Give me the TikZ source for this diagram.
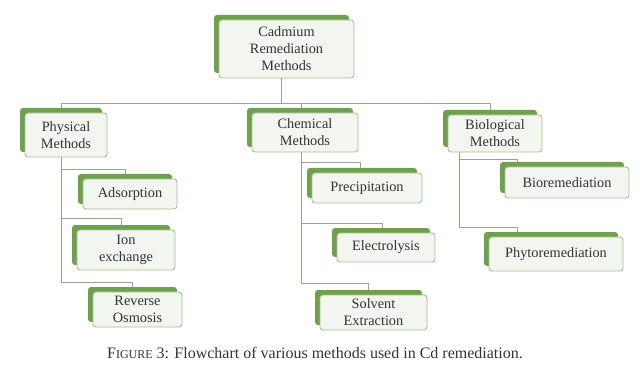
\documentclass[tikz,border=0pt]{standalone}
\usepackage{fontspec}
\setmainfont{Liberation Serif}
\usetikzlibrary{shadows,backgrounds}
\definecolor{gback}{HTML}{6FA04D}
\definecolor{gfront}{HTML}{F3F5F0}
\definecolor{gborder}{HTML}{A6C08E}
\definecolor{gline}{HTML}{9AA58A}
\definecolor{txt}{HTML}{333333}
\begin{document}
\begin{tikzpicture}[x=1pt,y=-1pt,
  box/.style={draw=gborder, fill=gfront, line width=0.9pt, rounded corners=3pt,
    align=center, inner sep=0pt, text=txt,
    font=\fontsize{14.3}{17}\selectfont,
    general shadow={fill=gback, shadow xshift=-5pt, shadow yshift=5pt}},
  conn/.style={draw=gline, line width=0.8pt}]
\useasboundingbox (0,0) rectangle (640,385);

% nodes
\node[box, minimum width=135pt, minimum height=58pt] (top) at (286.5,49) {Cadmium\\Remediation\\Methods};
\node[box, minimum width=82pt, minimum height=44pt] (phys) at (66,135) {Physical\\Methods};
\node[box, minimum width=106pt, minimum height=39pt] (chem) at (305,132.5) {Chemical\\Methods};
\node[box, minimum width=94pt, minimum height=37pt] (bio) at (495,133.5) {Biological\\Methods};
\node[box, minimum width=94pt, minimum height=30pt] (ads) at (130,194) {Adsorption};
\node[box, minimum width=98pt, minimum height=40pt] (ion) at (126,250) {Ion\\exchange};
\node[box, minimum width=89pt, minimum height=35pt] (rev) at (137.5,309.5) {Reverse\\Osmosis};
\node[box, minimum width=110pt, minimum height=30pt] (prec) at (367,188) {Precipitation};
\node[box, minimum width=98pt, minimum height=29pt] (elec) at (386,247.5) {Electrolysis};
\node[box, minimum width=107pt, minimum height=35pt] (solv) at (373.5,312.5) {Solvent\\Extraction};
\node[box, minimum width=124pt, minimum height=31pt] (biorem) at (567,182.5) {Bioremediation};
\node[box, minimum width=134pt, minimum height=34pt] (phyto) at (556,254) {Phytoremediation};

\node[text=txt, font=\fontsize{16}{18}\selectfont] (cap) at (315,353)
  {F{\fontsize{12}{13}\selectfont IGURE} 3: Flowchart of various methods used in Cd remediation.};

% connectors
\begin{scope}[on background layer]
\coordinate (busL) at (61,103);
\coordinate (busR) at (490,103);
\coordinate (pA) at (61,169);
\coordinate (pB) at (61,218);
\coordinate (pC) at (61,282);
\coordinate (cA) at (301,162);
\coordinate (cB) at (301,223);
\coordinate (cC) at (301,283);
\coordinate (bA) at (459,159);
\coordinate (bB) at (459,227);
\draw[conn] ([xshift=-5pt]top.south) -- ([xshift=-5pt]top.south |- busL);
\draw[conn] (busL) -- (busR) -- (busR |- bio.north);
\draw[conn] (busL) -- (pC);
\draw[conn] (301,103) -- (cC);
\draw[conn] (459,140) -- (bB);
\draw[conn] (pA) -| ([xshift=-5pt]ads.north);
\draw[conn] (pB) -| ([xshift=-5pt]ion.north);
\draw[conn] (pC) -| ([xshift=-5pt]rev.north);
\draw[conn] (cA) -| ([xshift=-7pt]prec.north);
\draw[conn] (cB) -| ([xshift=-4pt]elec.north);
\draw[conn] (cC) -| ([xshift=-5pt]solv.north);
\draw[conn] (bA) -| (517,170);
\draw[conn] (bB) -| (517,240);
\end{scope}
\end{tikzpicture}
\end{document}
